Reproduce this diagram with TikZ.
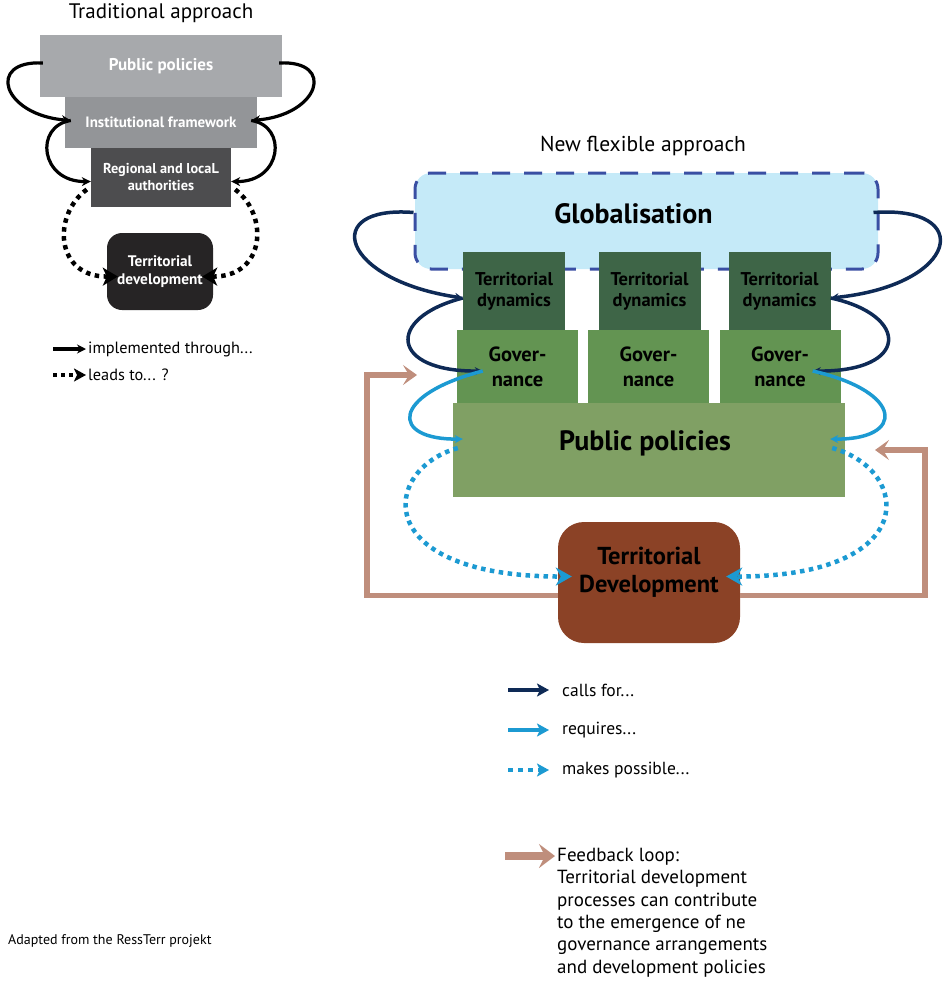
\documentclass[tikz,border=0pt]{standalone}
\usepackage{fontspec}
\setmainfont{PT Sans}
\usetikzlibrary{positioning}
\usetikzlibrary{arrows.meta}
\usetikzlibrary{calc}

\newcommand{\fsz}[2]{\fontsize{#1}{#2}\selectfont}

\definecolor{tradlight}{HTML}{A7A9AC}
\definecolor{tradmid}{HTML}{939598}
\definecolor{traddark}{HTML}{4D4D4F}
\definecolor{tradblack}{HTML}{262425}
\definecolor{globfill}{HTML}{C5EAF8}
\definecolor{globdash}{HTML}{3A4FA3}
\definecolor{dynfill}{HTML}{3E6547}
\definecolor{govfill}{HTML}{639452}
\definecolor{ppfill}{HTML}{80A064}
\definecolor{devfill}{HTML}{8B4226}
\definecolor{navy}{HTML}{0E2A56}
\definecolor{skyblue}{HTML}{1C9AD2}
\definecolor{tan}{HTML}{BF8E7C}

\tikzset{
  tbox/.style={fill=#1, text=white, font=\bfseries, align=center, inner sep=0pt},
  gbox/.style={fill=#1, text=black, font=\bfseries, align=center, inner sep=0pt},
  impl/.style={line width=3.2pt, -{Stealth[length=9pt,width=9pt]}},
  leads/.style={line width=4.5pt, dash pattern=on 4.5pt off 4.5pt, -{Stealth[length=15pt,width=18pt,inset=4pt]}},
  callsfor/.style={navy, line width=3.5pt, -{Stealth[length=8pt,width=8pt]}},
  requires/.style={skyblue, line width=3.5pt, -{Stealth[length=8pt,width=8pt]}},
  possible/.style={skyblue, line width=4.5pt, dash pattern=on 4.5pt off 4.5pt, -{Stealth[length=16pt,width=18pt,inset=5pt]}},
  feedback/.style={tan, line width=5.5pt, -{Stealth[length=14pt,width=20pt,inset=6pt]}},
  legtxt/.style={inner sep=0pt, anchor=west, font=\fsz{17.5}{20}},
}

\begin{document}
\begin{tikzpicture}[x=1pt, y=-1pt]
\useasboundingbox (0,0) rectangle (942,982);

 %traditional approach
 \node[font=\fsz{21}{24}] (tradtitle) at (161,13) {Traditional approach};
 \node[tbox=tradlight, minimum width=242pt, minimum height=62pt, font=\bfseries\fsz{17}{19}] (tpp) at (161,66) {Public policies};
 \node[tbox=tradmid, minimum width=192pt, minimum height=51pt, font=\bfseries\fsz{15}{17}] (tif) at (161,122.5) {Institutional framework};
 \node[tbox=traddark, minimum width=140pt, minimum height=59pt, font=\bfseries\fsz{14.3}{17}] (trla) at (161,177.5) {Regional and locaL\\authorities};
 \node[tbox=tradblack, rounded corners=15pt, minimum width=106pt, minimum height=77pt, font=\bfseries\fsz{15.3}{18}] (ttd) at (160,271.5) {Territorial\\development};

 %loops
 \draw[impl] ([xshift=3pt,yshift=3pt]tpp.west) .. controls (-14,60) and (2,115) .. ([xshift=6pt,yshift=2pt]tif.west);
 \draw[impl] ([xshift=6pt,yshift=2pt]tif.west) .. controls (34,126) and (40,182) .. ([yshift=-4pt]trla.west);
 \draw[impl] ([xshift=-3pt,yshift=3pt]tpp.east) .. controls (336,60) and (320,115) .. ([xshift=-6pt,yshift=2pt]tif.east);
 \draw[impl] ([xshift=-6pt,yshift=2pt]tif.east) .. controls (288,126) and (282,182) .. ([yshift=-4pt]trla.east);

 \draw[leads] ([xshift=-4pt,yshift=-12pt]trla.west) .. controls (52,215) and (55,277) .. ([xshift=11pt,yshift=-5pt]ttd.west);
 \draw[leads] ([xshift=4pt,yshift=-12pt]trla.east) .. controls (269,215) and (266,277) .. ([xshift=-11pt,yshift=-5pt]ttd.east);

 %legend left
 \coordinate (la1) at (53,349);  \coordinate (lb1) at (86,349);
 \coordinate (la2) at (53,375);  \coordinate (lb2) at (86,375);
 \draw[impl, line width=4pt] (la1) -- (lb1);
 \draw[leads, line width=4pt, dash pattern=on 4pt off 4pt, -{Stealth[length=12pt,width=13pt,inset=3pt]}] (la2) -- (lb2);
 \node[legtxt, font=\fsz{16.3}{19}, right=2pt of lb1] (limpl) {implemented through...};
 \node[legtxt, font=\fsz{16.3}{19}, right=2pt of lb2] (llead) {leads to... ?};

 %new flexible approach
 \node[font=\fsz{21.5}{24}] (newtitle) at (643,146) {New flexible approach};
 \node[fill=globfill, draw=globdash, line width=3pt, dash pattern=on 18pt off 14pt, rounded corners=16pt,
       minimum width=463pt, minimum height=96pt,
       label={[name=globtxt, font=\bfseries\fsz{28}{30}, xshift=-13pt, yshift=7pt]center:Globalisation}] (glob) at (646.5,221) {};

 \foreach \i/\x in {1/514, 2/649.5, 3/779.5} {
   \node[gbox=dynfill, minimum width=102pt, minimum height=78pt, font=\bfseries\fsz{18.5}{21}] (dyn\i) at (\x,291) {Territorial\\dynamics};
 }
 \foreach \i/\x in {1/517.5, 2/648.5, 3/780} {
   \node[gbox=govfill, minimum width=121pt, minimum height=74pt, font=\bfseries\fsz{20.5}{24.5}] (gov\i) at (\x,367) {Gover-\\nance};
 }
 \node[gbox=ppfill, minimum width=392pt, minimum height=94pt,
       label={[name=pptxt, font=\bfseries\fsz{28}{30}, xshift=-4pt, yshift=7pt]center:Public policies}] (pp) at (649,450) {};
 \node[gbox=devfill, rounded corners=26pt, minimum width=182pt, minimum height=121pt,
       label={[name=devtxt, align=center, font=\bfseries\fsz{24.5}{28}, yshift=10pt]center:Territorial\\Development}] (tdev) at (649,582.5) {};

 %calls for
 \draw[callsfor] ([yshift=8.5pt]glob.west) .. controls (320,205) and (340,280) .. ([yshift=-7pt]dyn1.west);
 \draw[callsfor] ([yshift=-7pt]dyn1.west) .. controls (385,318) and (390,372) .. ([xshift=26pt,yshift=-4pt]gov1.west);
 \draw[callsfor] ([xshift=-6pt,yshift=8.5pt]glob.east) .. controls (975,205) and (960,285) .. ([yshift=-7pt]dyn3.east);
 \draw[callsfor] ([yshift=-7pt]dyn3.east) .. controls (910,315) and (910,372) .. ([xshift=-28pt,yshift=-4pt]gov3.east);

 %requires
 \draw[requires] ([xshift=26pt,yshift=-4pt]gov1.west) .. controls (390,395) and (390,440) .. ([xshift=10pt,yshift=11pt]pp.west);
 \draw[requires] ([xshift=-28pt,yshift=-4pt]gov3.east) .. controls (905,392) and (905,440) .. ([xshift=-15pt,yshift=11pt]pp.east);

 %makes possible
 \draw[possible] ([xshift=5pt,yshift=2pt]pp.west) .. controls (380,470) and (370,577) .. ([xshift=14pt,yshift=6pt]tdev.west);
 \draw[possible] ([xshift=-13pt,yshift=2pt]pp.east) .. controls (912,470) and (922,577) .. ([xshift=-14pt,yshift=6pt]tdev.east);

 %feedback loop
 \coordinate (fbL) at (417,375);
 \coordinate (fbR) at (875,450);
 \draw[feedback] ([yshift=-13pt]tdev.west) -| ([xshift=-50pt]fbL) -- (fbL);
 \draw[feedback] ([yshift=-13pt]tdev.east) -| ([xshift=50pt]fbR) -- (fbR);

 %legend right
 \coordinate (ra1) at (508,690); \coordinate (rb1) at (549,690);
 \coordinate (ra2) at (508,730); \coordinate (rb2) at (549,730);
 \coordinate (ra3) at (508,770); \coordinate (rb3) at (549,770);
 \coordinate (ra4) at (505,856); \coordinate (rb4) at (555,856);
 \draw[callsfor, line width=4pt, -{Stealth[length=12pt,width=13pt,inset=3pt]}] (ra1) -- (rb1);
 \draw[requires, line width=4pt, -{Stealth[length=12pt,width=13pt,inset=3pt]}] (ra2) -- (rb2);
 \draw[possible, line width=4pt, dash pattern=on 5pt off 5pt, -{Stealth[length=12pt,width=13pt,inset=3pt]}] (ra3) -- (rb3);
 \draw[feedback, line width=8pt, -{Stealth[length=16pt,width=24pt,inset=6pt]}] (ra4) -- (rb4);
 \node[legtxt, right=13pt of rb1] (rcalls) {calls for...};
 \node[legtxt, right=13pt of rb2] (rreq) {requires...};
 \node[legtxt, right=13pt of rb3] (rposs) {makes possible...};
 \node[inner sep=0pt, anchor=north west, align=left, font=\fsz{19}{22.3}] (rfeed) at (557,848)
   {Feedback loop:\\Territorial development\\processes can contribute\\to the emergence of ne\\governance arrangements\\and development policies};

 \node[inner sep=0pt, anchor=west, font=\fsz{14}{16}] (source) at (8,941) {Adapted from the RessTerr projekt};

\end{tikzpicture}
\end{document}
